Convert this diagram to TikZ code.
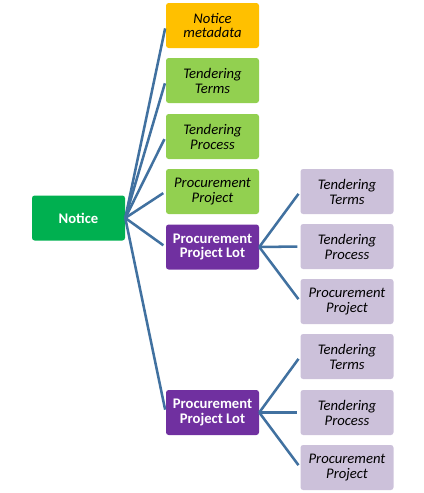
\documentclass[tikz,border=0pt]{standalone}
\usepackage{fontspec}
\setmainfont{Carlito}
\usetikzlibrary{positioning}
\definecolor{ntgreen}{RGB}{0,176,80}
\definecolor{ntgold}{RGB}{255,192,0}
\definecolor{ntlime}{RGB}{146,208,80}
\definecolor{ntpurple}{RGB}{112,48,160}
\definecolor{ntlilac}{RGB}{204,193,218}
\definecolor{ntline}{RGB}{65,113,160}
\begin{document}
\begin{tikzpicture}[x=0.75pt,y=-0.75pt,
  box/.style={rounded corners=2pt,minimum width=69.75pt,minimum height=33.75pt,align=center,
    font=\fontsize{11}{11.2}\selectfont\itshape,inner sep=1pt},
  keybox/.style={box,text=white,font=\fontsize{11}{11.2}\selectfont\bfseries},
  link/.style={ntline,line width=1.9pt,shorten >=2.2pt}]
\useasboundingbox (0,0) rectangle (424,493);
% Root
\node[keybox,fill=ntgreen] (notice) at (78.5,218) {Notice};

% Notice parts
\node[box,fill=ntgold] (meta) at (212.5,25.5) {Notice\\metadata};
\node[box,fill=ntlime] (terms) at (212.5,80.5) {Tendering\\Terms};
\node[box,fill=ntlime] (process) at (212.5,136.5) {Tendering\\Process};
\node[box,fill=ntlime] (project) at (212.5,191.5) {Procurement\\Project};
\node[keybox,fill=ntpurple] (lota) at (212.5,247) {Procurement\\Project Lot};
\node[keybox,fill=ntpurple] (lotb) at (212.5,412.5) {Procurement\\Project Lot};

% Lot parts
\node[box,fill=ntlilac] (termsa) at (347,191.5) {Tendering\\Terms};
\node[box,fill=ntlilac] (processa) at (347,246.5) {Tendering\\Process};
\node[box,fill=ntlilac] (projecta) at (347,301.5) {Procurement\\Project};
\node[box,fill=ntlilac] (termsb) at (347,356.5) {Tendering\\Terms};
\node[box,fill=ntlilac] (processb) at (347,412.5) {Tendering\\Process};
\node[box,fill=ntlilac] (projectb) at (347,467.5) {Procurement\\Project};

% Links
\foreach \t in {meta,terms,process,project,lota,lotb}
  \draw[link] (notice.east) -- (\t.west);
\foreach \t in {termsa,processa,projecta}
  \draw[link] (lota.east) -- (\t.west);
\foreach \t in {termsb,processb,projectb}
  \draw[link] (lotb.east) -- (\t.west);
\end{tikzpicture}
\end{document}
